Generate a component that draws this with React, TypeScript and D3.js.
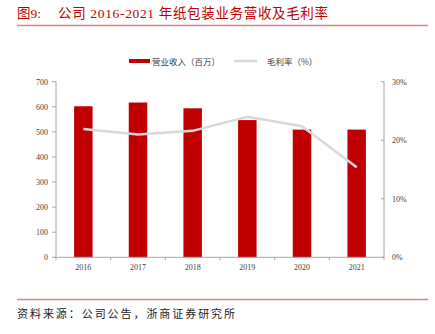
import React from "react";
import * as d3 from "d3";

const years = ["2016", "2017", "2018", "2019", "2020", "2021"];
const revenue = [602, 617, 594, 547, 509, 509];
const margin = [21.9, 21.0, 21.6, 24.0, 22.4, 15.4];
const leftTicks = [0, 100, 200, 300, 400, 500, 600, 700];
const rightTicks = [0, 10, 20, 30];

const RED = "#c00000";
const AXIS = "#a6a6a6";
const serif = "'Liberation Serif', 'Times New Roman', 'Noto Sans CJK SC', serif";
const cjk = "'Noto Sans CJK SC', sans-serif";

export default function App() {
  const W = 435, H = 334;
  const x0 = 56, x1 = 384, yTop = 81.7, yBot = 257.3;
  const x = d3.scaleBand().domain(years).range([x0, x1]).paddingInner(0).paddingOuter(0);
  const yL = d3.scaleLinear().domain([0, 700]).range([yBot, yTop]);
  const yR = d3.scaleLinear().domain([0, 30]).range([yBot, yTop]);
  const barW = 18.5;
  const line = d3.line<number>()
    .x((_, i) => (x(years[i]) as number) + x.bandwidth() / 2)
    .y((d) => yR(d));
  const boundaries = d3.range(years.length + 1).map((i) => x0 + i * x.bandwidth());

  return (
    <svg width={W} height={H} style={{ position: "absolute", left: 0, top: 0, background: "#fff" }}>
      <text x={17} y={18} fontFamily={serif} fontSize={13.5} fill={RED}>
        <tspan>图9:</tspan>
        <tspan x={58} textLength={270} lengthAdjust="spacing">公司 2016-2021 年纸包装业务营收及毛利率</tspan>
      </text>
      <line x1={17} x2={428} y1={25.5} y2={25.5} stroke="#e48080" strokeWidth={1.5} />

      {/* legend */}
      <rect x={129} y={59} width={21} height={4} fill={RED} />
      <text x={152} y={64.5} fontFamily={cjk} fontSize={8.5} fill="#404040">营业收入（百万）</text>
      <line x1={234} x2={257} y1={61} y2={61} stroke="#d9d9d9" strokeWidth={2.5} />
      <text x={267} y={64.5} fontFamily={cjk} fontSize={8.5} fill="#404040">毛利率（%）</text>

      {/* bars */}
      {revenue.map((v, i) => (
        <rect
          key={years[i]}
          x={(x(years[i]) as number) + x.bandwidth() / 2 - barW / 2}
          y={yL(v)}
          width={barW}
          height={yBot - yL(v)}
          fill={RED}
        />
      ))}

      {/* axes */}
      <line x1={x0} x2={x0} y1={yTop} y2={yBot} stroke={AXIS} strokeWidth={1} />
      <line x1={x1} x2={x1} y1={yTop} y2={yBot} stroke={AXIS} strokeWidth={1} />
      <line x1={x0} x2={x1} y1={yBot} y2={yBot} stroke={AXIS} strokeWidth={1} />
      {leftTicks.map((t) => (
        <g key={"l" + t}>
          <line x1={x0 - 4} x2={x0} y1={yL(t)} y2={yL(t)} stroke={AXIS} />
          <text x={x0 - 8} y={yL(t) + 3} textAnchor="end" fontFamily={serif} fontSize={8} fill="#404040">{t}</text>
        </g>
      ))}
      {rightTicks.map((t) => (
        <g key={"r" + t}>
          <line x1={x1 - 3} x2={x1} y1={yR(t)} y2={yR(t)} stroke={AXIS} />
          <text x={x1 + 8} y={yR(t) + 3} fontFamily={serif} fontSize={8} fill="#404040">{t + "%"}</text>
        </g>
      ))}
      {boundaries.map((b, i) => (
        <line key={"b" + i} x1={b} x2={b} y1={yBot} y2={yBot + 3} stroke={AXIS} />
      ))}
      {years.map((yr) => (
        <text key={"t" + yr} x={(x(yr) as number) + x.bandwidth() / 2} y={yBot + 13} textAnchor="middle" fontFamily={serif} fontSize={8} fill="#404040">{yr}</text>
      ))}

      {/* margin line */}
      <path d={line(margin) || ""} fill="none" stroke="#d9d9d9" strokeWidth={2.5} />

      <line x1={17} x2={428} y1={299.5} y2={299.5} stroke="#e48080" strokeWidth={1.5} />
      <text x={17} y={318} fontFamily={cjk} fontSize={11} fill="#222" textLength={218} lengthAdjust="spacing">资料来源：公司公告，浙商证券研究所</text>
    </svg>
  );
}
